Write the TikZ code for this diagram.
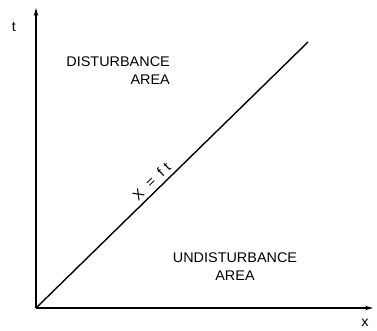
\documentclass[tikz,border=0pt]{standalone}
\usepackage{fontspec}
\setmainfont{Liberation Sans}
\newfontfamily\lbl[FakeStretch=1.03]{Liberation Sans}
\usetikzlibrary{arrows.meta}
\begin{document}
\begin{tikzpicture}[x=1pt,y=1pt,
  axis/.style={line width=1.2pt,-{Stealth[length=8pt,width=4.5pt]}},
  txt/.style={inner sep=0pt,font=\lbl\fontsize{14}{16}\selectfont}]
\useasboundingbox (0,0) rectangle (377,330);
\coordinate (O) at (36,22);
\coordinate (ytip) at (36,322);
\coordinate (xtip) at (373,22);
\coordinate (lend) at (308,288);
\draw[axis] (O) -- (ytip);
\draw[axis] (O) -- (xtip);
\draw[line width=1.4pt] (O) -- (lend) node[pos=0.45,sloped,anchor=south,inner sep=0pt,yshift=4pt,font=\lbl\fontsize{14}{16}\selectfont] (f) {X\ \ =\ \ f\,\,t};
\node[txt] (t) at (14,303) {t};
\node[txt] (x) at (365,7) {x};
\node[txt,align=right,anchor=north east] (d) at (170,273) {DISTURBANCE\\[2pt]AREA};
\node[txt,align=center] (u) at (235,63) {UNDISTURBANCE\\[2pt]AREA};
\end{tikzpicture}
\end{document}
